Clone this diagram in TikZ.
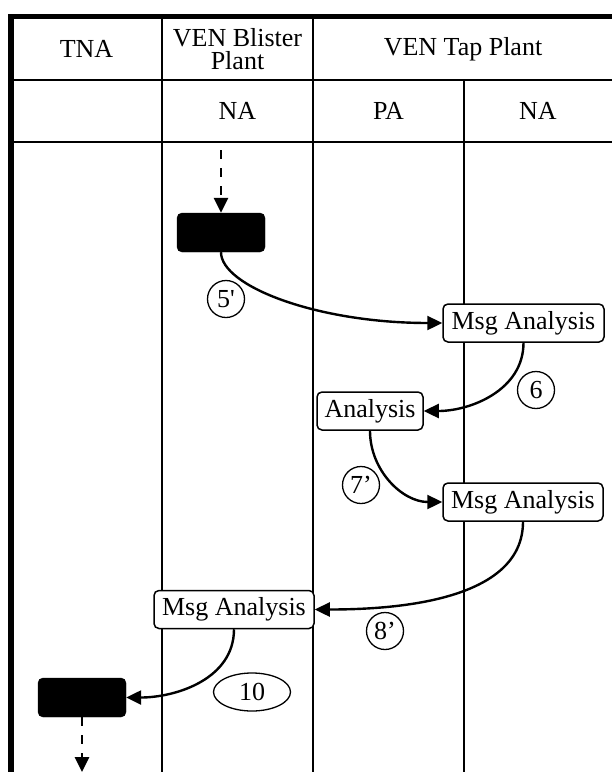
\documentclass[tikz,border=0pt]{standalone}
\usepackage{fontspec}
\setmainfont{Liberation Serif}
\newfontfamily\straightq{Liberation Serif}
\usetikzlibrary{arrows.meta,shapes.geometric}
\begin{document}
\begin{tikzpicture}[x=1pt,y=-1pt,
  every node/.style={font=\fontsize{26}{23.5}\selectfont},
  grid/.style={line width=2.4pt},
  thick border/.style={line width=5.5pt},
  act/.style={draw,rounded corners=5pt,fill=white,line width=1.5pt,inner sep=0pt,minimum height=38pt},
  blk/.style={draw,fill=black,rounded corners=5pt,inner sep=0pt,minimum width=88pt,minimum height=39pt},
  lbl/.style={draw,circle,fill=white,line width=1.3pt,inner sep=0pt,minimum size=37pt},
  flow/.style={line width=2.4pt,-{Triangle[length=15pt,width=14pt]}},
  dflow/.style={line width=2.8pt,dash pattern=on 9pt off 9pt,-{Triangle[length=15pt,width=14pt]}}
]
\useasboundingbox (0,0) rectangle (612,772);
% table grid
\draw[grid] (162,16) -- (162,772);
\draw[grid] (313,16) -- (313,772);
\draw[grid] (464,80) -- (464,772);
\draw[grid] (11,80) -- (612,80);
\draw[grid] (11,142) -- (612,142);
\draw[thick border] (8,16.5) -- (612,16.5);
\draw[line width=6pt] (11,14) -- (11,772);
% headers
\node (hTNA) at (86.5,49) {TNA};
\node[align=center,inner sep=0pt] (hVB) at (237.5,49) {VEN Blister\\Plant};
\node (hVT) at (463,49) {VEN Tap Plant};
\node (hNA1) at (237.5,111) {NA};
\node (hPA) at (388.5,111) {PA};
\node (hNA2) at (538,111) {NA};
% activities
\node[blk] (blk1) at (221,232.5) {};
\node[act,minimum width=161pt] (ma1) at (523.5,323) {Msg Analysis};
\node[act,minimum width=106pt] (an) at (370,411) {Analysis};
\node[act,minimum width=160pt] (ma2) at (523,502) {Msg Analysis};
\node[act,minimum width=160pt] (ma3) at (234,609.5) {Msg Analysis};
\node[blk] (blk2) at (82,697.5) {};
% entry/exit
\coordinate (in1) at (221,150);
\coordinate (out2) at (82,772);
\draw[dflow] (in1) -- (blk1.north);
\draw[dflow] (blk2.south) -- (out2);
% flows
\draw[flow] (blk1.south) .. controls +(0,34) and +(-125,0) .. (ma1.west);
\draw[flow] (ma1.south) to[out=-90,in=0,looseness=1] (an.east);
\draw[flow] (an.south) to[out=-90,in=180,looseness=1] (ma2.west);
\draw[flow] (ma2.south) to[out=-90,in=0,looseness=0.9] (ma3.east);
\draw[flow] (ma3.south) to[out=-90,in=0,looseness=1] (blk2.east);
% labels
\node[lbl] (l5) at (226,299) {\straightq 5'};
\node[lbl] (l6) at (536,390) {6};
\node[lbl] (l7) at (361,485) {7’};
\node[lbl] (l8) at (385,631) {8’};
\node[draw,ellipse,fill=white,line width=1.3pt,inner sep=0pt,minimum width=77pt,minimum height=38pt] (l10) at (252,692) {10};
\end{tikzpicture}
\end{document}
